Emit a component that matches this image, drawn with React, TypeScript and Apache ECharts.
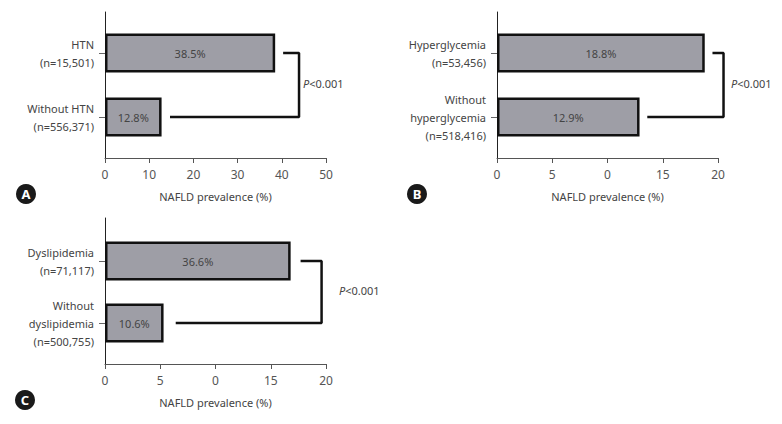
import React, { useEffect, useRef } from "react";
import * as echarts from "echarts";

const catsA = ["HTN\n(n=15,501)", "Without HTN\n(n=556,371)"];
const valsA = [38.5, 12.8];
const labelsA = ["38.5%", "12.8%"];
const ticksA = ["0", "10", "20", "30", "40", "50"];
const bracketA = [[40.3, 0], [43.9, 0], [43.9, 1], [14.7, 1]];

const catsB = ["Hyperglycemia\n(n=53,456)", "Without\nhyperglycemia\n(n=518,416)"];
const valsB = [18.8, 12.9];
const labelsB = ["18.8%", "12.9%"];
const ticksB = ["0", "5", "0", "15", "20"];
const bracketB = [[19.5, 0], [20.5, 0], [20.5, 1], [13.6, 1]];

const catsC = ["Dyslipidemia\n(n=71,117)", "Without\ndyslipidemia\n(n=500,755)"];
const valsC = [16.8, 5.3];
const labelsC = ["36.6%", "10.6%"];
const ticksC = ["0", "5", "0", "15", "20"];
const bracketC = [[17.7, 0], [19.6, 0], [19.6, 1], [6.4, 1]];

const pText = "{i|P}<0.001";

const FONT = "'Noto Sans', sans-serif";
const TXT = "#444";
const FS = 11;

type Panel = {
  cats: string[];
  vals: number[];
  labels: string[];
  ticks: string[];
  bracket: number[][];
  max: number;
  interval: number;
  left: number;
  outerTop: number;
  innerTop: number;
  innerH: number;
};

const panels: Panel[] = [
  { cats: catsA, vals: valsA, labels: labelsA, ticks: ticksA, bracket: bracketA, max: 50, interval: 10, left: 105, outerTop: 12, innerTop: 21, innerH: 128 },
  { cats: catsB, vals: valsB, labels: labelsB, ticks: ticksB, bracket: bracketB, max: 20, interval: 5, left: 497, outerTop: 12, innerTop: 21, innerH: 128 },
  { cats: catsC, vals: valsC, labels: labelsC, ticks: ticksC, bracket: bracketC, max: 20, interval: 5, left: 105, outerTop: 218, innerTop: 230, innerH: 124 },
];

export default function App() {
  const ref = useRef<HTMLDivElement>(null);
  useEffect(() => {
    if (!ref.current) return;
    const chart = echarts.init(ref.current, undefined, { renderer: "svg" });
    const grid: any[] = [];
    const xAxis: any[] = [];
    const yAxis: any[] = [];
    const series: any[] = [];
    panels.forEach((p, i) => {
      const W = 221;
      const H = 146;
      grid.push({ left: p.left, top: p.outerTop, width: W, height: H });
      grid.push({ left: p.left, top: p.innerTop, width: W, height: p.innerH });
      const og = i * 2;
      const ig = i * 2 + 1;
      xAxis.push({
        type: "value",
        gridIndex: og,
        min: 0,
        max: p.max,
        interval: p.interval,
        splitLine: { show: false },
        axisLine: { show: true, lineStyle: { color: "#555", width: 1 } },
        axisTick: { show: true, length: 5, lineStyle: { color: "#555" } },
        axisLabel: {
          margin: 10,
          color: "#555",
          fontFamily: FONT,
          fontSize: 12,
          formatter: (v: number) => p.ticks[Math.round(v / p.interval)] ?? "",
        },
        name: "NAFLD prevalence (%)",
        nameLocation: "middle",
        nameGap: 33,
        nameTextStyle: { color: TXT, fontFamily: FONT, fontSize: FS },
      });
      xAxis.push({
        type: "value",
        gridIndex: ig,
        min: 0,
        max: p.max,
        show: false,
      });
      yAxis.push({
        type: "value",
        gridIndex: og,
        axisLine: { show: true, onZero: false, lineStyle: { color: "#222", width: 1 } },
        axisTick: { show: false },
        axisLabel: { show: false },
        splitLine: { show: false },
      });
      yAxis.push({
        type: "category",
        gridIndex: ig,
        inverse: true,
        data: p.cats,
        axisLine: { show: false },
        axisTick: { show: true, alignWithLabel: true, length: 6, lineStyle: { color: "#666" } },
        axisLabel: {
          margin: 11,
          color: TXT,
          fontFamily: FONT,
          fontSize: FS,
          lineHeight: 18,
          align: "right",
        },
      });
      series.push({
        type: "bar",
        xAxisIndex: ig,
        yAxisIndex: ig,
        data: p.vals,
        barWidth: 39,
        itemStyle: { color: "#9e9ea6", borderColor: "#111", borderWidth: 2.5 },
        label: {
          show: true,
          position: "inside",
          color: TXT,
          fontFamily: FONT,
          fontSize: FS,
          formatter: (d: any) => p.labels[d.dataIndex],
        },
      });
      series.push({
        type: "line",
        xAxisIndex: ig,
        yAxisIndex: ig,
        data: p.bracket,
        symbol: "none",
        silent: true,
        clip: false,
        lineStyle: { color: "#111", width: 2.5 },
      });
    });

    const letter = (x: number, y: number, t: string) => ({
      type: "group",
      x,
      y,
      children: [
        { type: "circle", shape: { cx: 0, cy: 0, r: 10 }, style: { fill: "#1a1a1a" } },
        {
          type: "text",
          x: 0,
          y: 0,
          style: {
            text: t,
            fill: "#fff",
            fontFamily: FONT,
            fontWeight: "bold",
            fontSize: 13,
            align: "center",
            verticalAlign: "middle",
          },
        },
      ],
    });
    const pLabel = (x: number, y: number) => ({
      type: "text",
      x,
      y,
      style: {
        text: pText,
        fill: TXT,
        fontFamily: FONT,
        fontSize: FS,
        verticalAlign: "middle",
        rich: { i: { fontStyle: "italic", fontFamily: FONT, fontSize: FS, fill: TXT } },
      },
    });

    chart.setOption({
      animation: false,
      grid,
      xAxis,
      yAxis,
      series,
      graphic: [
        letter(26, 194, "A"),
        letter(417, 194, "B"),
        letter(25, 400, "C"),
        pLabel(303, 83),
        pLabel(731, 83),
        pLabel(339, 290),
      ],
    });
    return () => chart.dispose();
  }, []);
  return (
    <div
      ref={ref}
      style={{ position: "absolute", left: 0, top: 0, width: 782, height: 424, background: "#fff" }}
    />
  );
}
